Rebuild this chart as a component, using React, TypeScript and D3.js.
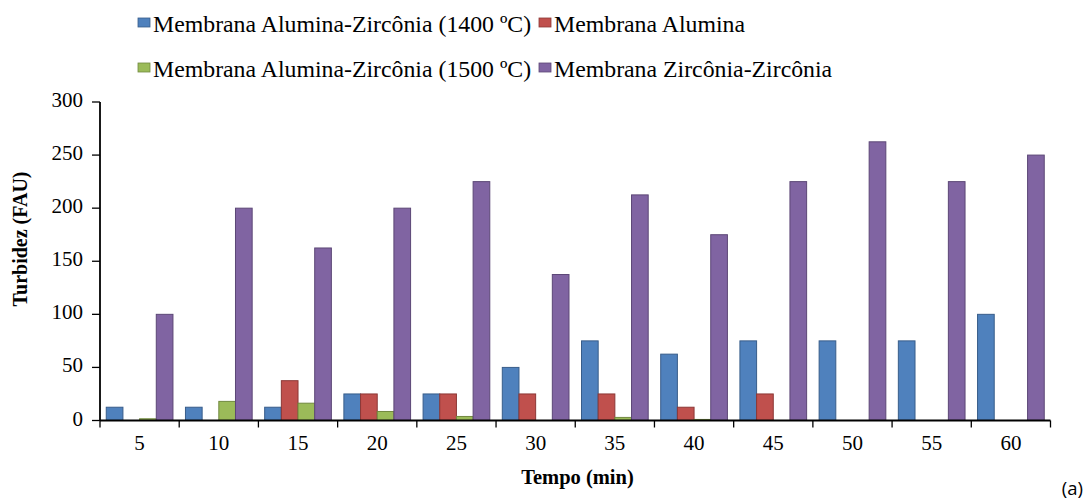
import React from "react";
import * as d3 from "d3";

const categories = ["5", "10", "15", "20", "25", "30", "35", "40", "45", "50", "55", "60"];
const seriesNames = [
  "Membrana Alumina-Zircônia (1400 ºC)",
  "Membrana Alumina",
  "Membrana Alumina-Zircônia (1500 ºC)",
  "Membrana Zircônia-Zircônia",
];
const az1400 = [12.5, 12.5, 12.5, 25, 25, 50, 75, 62.5, 75, 75, 75, 100];
const alumina = [0, 0, 37.5, 25, 25, 25, 25, 12.5, 25, 0, 0, 0];
const az1500 = [1.6, 18, 16.3, 8.5, 3.8, 0, 2.9, 1, 0, 0, 0, 0];
const zz = [100, 200, 162.5, 200, 225, 137.5, 212.5, 175, 225, 262.5, 225, 250];
const yTicks = [0, 50, 100, 150, 200, 250, 300];

const fills = ["#4F81BD", "#C0504D", "#9BBB59", "#8064A2"];
const strokes = ["#385D8A", "#8C3836", "#71893F", "#5C4776"];

export default function App() {
  const W = 1091, H = 504;
  const x0 = 100, x1 = 1050.5, yTop = 102, yBot = 420.5;
  const series = [az1400, alumina, az1500, zz];
  const x = d3.scaleBand<string>().domain(categories).range([x0, x1]).paddingInner(0).paddingOuter(0);
  const inner = d3.scaleBand<number>().domain([0, 1, 2, 3]).range([0, x.bandwidth()]).paddingInner(0).paddingOuter(0.375);
  const y = d3.scaleLinear().domain([0, 300]).range([yBot, yTop]);
  const serif = "'Liberation Serif', 'Times New Roman', serif";

  const legend = [
    { i: 0, x: 138, y: 18 },
    { i: 1, x: 539, y: 18 },
    { i: 2, x: 138, y: 63 },
    { i: 3, x: 539, y: 63 },
  ];

  return (
    <svg width={W} height={H} style={{ position: "absolute", left: 0, top: 0, background: "#fff" }}>
      {legend.map((l) => (
        <g key={l.i}>
          <rect x={l.x} y={l.y} width={12} height={9} fill={fills[l.i]} stroke={strokes[l.i]} strokeWidth={0.8} />
          <text x={l.x + 15} y={l.y + 13.5} fontFamily={serif} fontSize={23.8} fill="#000">
            {seriesNames[l.i]}
          </text>
        </g>
      ))}

      {series.map((vals, si) =>
        vals.map((v, ci) => {
          if (v <= 0) return null;
          const bx = (x(categories[ci]) as number) + (inner(si) as number);
          return (
            <rect
              key={si + "-" + ci}
              x={bx}
              y={y(v)}
              width={inner.bandwidth()}
              height={yBot - y(v)}
              fill={fills[si]}
              stroke={strokes[si]}
              strokeWidth={1}
            />
          );
        })
      )}

      {/* y axis */}
      <line x1={x0} x2={x0} y1={yTop} y2={yBot} stroke="#000" strokeWidth={1.8} />
      {yTicks.map((t) => (
        <g key={t}>
          <line x1={x0 - 8} x2={x0} y1={y(t)} y2={y(t)} stroke="#000" strokeWidth={1.3} />
          <text x={83} y={y(t) + 5} textAnchor="end" fontFamily={serif} fontSize={21} fill="#000">
            {t}
          </text>
        </g>
      ))}

      {/* x axis */}
      <line x1={x0} x2={x1} y1={yBot} y2={yBot} stroke="#000" strokeWidth={1.8} />
      {categories.concat(["end"]).map((c, i) => {
        const px = i < categories.length ? (x(c) as number) : x1;
        return <line key={"t" + i} x1={px} x2={px} y1={yBot} y2={yBot + 7} stroke="#000" strokeWidth={1.3} />;
      })}
      {categories.map((c) => (
        <text
          key={"l" + c}
          x={(x(c) as number) + x.bandwidth() / 2}
          y={449.5}
          textAnchor="middle"
          fontFamily={serif}
          fontSize={21}
          fill="#000"
        >
          {c}
        </text>
      ))}

      <text x={577.5} y={484} textAnchor="middle" fontFamily={serif} fontSize={20.5} fontWeight="bold" fill="#000">
        Tempo (min)
      </text>
      <text
        transform={`translate(27, 239) rotate(-90)`}
        textAnchor="middle"
        fontFamily={serif}
        fontSize={20}
        fontWeight="bold"
        fill="#000"
      >
        Turbidez (FAU)
      </text>
      <text x={1083} y={495} textAnchor="end" fontFamily="'Open Sans', 'Liberation Sans', sans-serif" fontSize={18.5} fill="#000">
        (a)
      </text>
    </svg>
  );
}
